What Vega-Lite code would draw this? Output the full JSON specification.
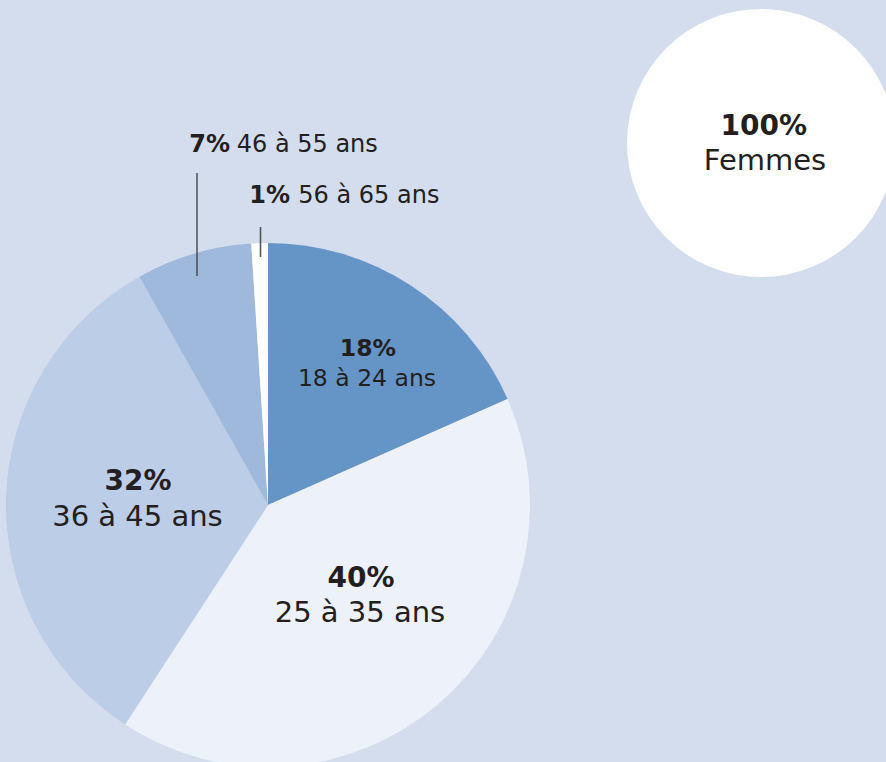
{
  "$schema": "https://vega.github.io/schema/vega-lite/v6.json",
  "width": 886,
  "height": 762,
  "autosize": {"type": "fit", "contains": "padding"},
  "padding": 0,
  "background": "#d4ddee",
  "config": {
    "view": {"stroke": null},
    "text": {"font": "DejaVu Sans", "fill": "#231f20", "baseline": "alphabetic", "align": "center"}
  },
  "params": [
    {"name": "cx", "value": 268},
    {"name": "cy", "value": 505},
    {"name": "gx", "value": 761},
    {"name": "gy", "value": 143}
  ],
  "resolve": {"scale": {"theta": "independent"}},
  "datasets": {
    "ages": [
      {"age": "18 à 24 ans", "share": 0.18},
      {"age": "25 à 35 ans", "share": 0.40},
      {"age": "36 à 45 ans", "share": 0.32},
      {"age": "46 à 55 ans", "share": 0.07},
      {"age": "56 à 65 ans", "share": 0.01}
    ],
    "sexe": [
      {"sexe": "Femmes", "share": 1.0}
    ]
  },
  "data": {"name": "ages"},
  "layer": [
    {
      "mark": {"type": "arc", "outerRadius": 262, "x": {"expr": "cx"}, "y": {"expr": "cy"}, "clip": true},
      "encoding": {
        "theta": {"field": "share", "type": "quantitative", "stack": true},
        "order": {"field": "age", "type": "ordinal", "sort": "ascending"},
        "color": {
          "field": "age",
          "type": "nominal",
          "scale": {
            "domain": ["18 à 24 ans", "25 à 35 ans", "36 à 45 ans", "46 à 55 ans", "56 à 65 ans"],
            "range": ["#6595c7", "#edf1f9", "#bccde7", "#9eb9dc", "#ffffff"]
          },
          "legend": null
        }
      }
    },
    {
      "mark": {"type": "rule", "color": "#3a3a3a", "strokeWidth": 1.3},
      "transform": [{"filter": "datum.age === '46 à 55 ans'"}],
      "encoding": {
        "x": {"value": {"expr": "cx - 71"}},
        "y": {"value": {"expr": "cy - 332"}},
        "y2": {"value": {"expr": "cy - 229"}}
      }
    },
    {
      "mark": {"type": "rule", "color": "#555555", "strokeWidth": 1.6},
      "transform": [{"filter": "datum.age === '56 à 65 ans'"}],
      "encoding": {
        "x": {"value": {"expr": "cx - 7.5"}},
        "y": {"value": {"expr": "cy - 278"}},
        "y2": {"value": {"expr": "cy - 248"}}
      }
    },
    {
      "mark": {"type": "text", "x": {"expr": "cx"}, "y": {"expr": "cy"}, "radius": 173, "dx": 5.6, "dy": -4, "fontSize": 23.5, "fontWeight": "bold"},
      "encoding": {
        "theta": {"field": "share", "type": "quantitative", "stack": true},
        "order": {"field": "age", "type": "ordinal", "sort": "ascending"},
        "text": {"condition": {"test": "datum.age === '18 à 24 ans'", "field": "share", "type": "quantitative", "format": ".0%"}, "value": ""}
      }
    },
    {
      "mark": {"type": "text", "x": {"expr": "cx"}, "y": {"expr": "cy"}, "radius": 173, "dx": 4.6, "dy": 26, "fontSize": 23.5},
      "encoding": {
        "theta": {"field": "share", "type": "quantitative", "stack": true},
        "order": {"field": "age", "type": "ordinal", "sort": "ascending"},
        "text": {"condition": {"test": "datum.age === '18 à 24 ans'", "field": "age", "type": "nominal"}, "value": ""}
      }
    },
    {
      "mark": {"type": "text", "x": {"expr": "cx"}, "y": {"expr": "cy"}, "radius": 130, "dx": 8.7, "dy": -17, "fontSize": 28, "fontWeight": "bold"},
      "encoding": {
        "theta": {"field": "share", "type": "quantitative", "stack": true},
        "order": {"field": "age", "type": "ordinal", "sort": "ascending"},
        "text": {"condition": {"test": "datum.age === '25 à 35 ans'", "field": "share", "type": "quantitative", "format": ".0%"}, "value": ""}
      }
    },
    {
      "mark": {"type": "text", "x": {"expr": "cx"}, "y": {"expr": "cy"}, "radius": 130, "dx": 7.7, "dy": 18, "fontSize": 29},
      "encoding": {
        "theta": {"field": "share", "type": "quantitative", "stack": true},
        "order": {"field": "age", "type": "ordinal", "sort": "ascending"},
        "text": {"condition": {"test": "datum.age === '25 à 35 ans'", "field": "age", "type": "nominal"}, "value": ""}
      }
    },
    {
      "mark": {"type": "text", "x": {"expr": "cx"}, "y": {"expr": "cy"}, "radius": 130, "dx": 0, "dy": -10.8, "fontSize": 28, "fontWeight": "bold"},
      "encoding": {
        "theta": {"field": "share", "type": "quantitative", "stack": true},
        "order": {"field": "age", "type": "ordinal", "sort": "ascending"},
        "text": {"condition": {"test": "datum.age === '36 à 45 ans'", "field": "share", "type": "quantitative", "format": ".0%"}, "value": ""}
      }
    },
    {
      "mark": {"type": "text", "x": {"expr": "cx"}, "y": {"expr": "cy"}, "radius": 130, "dx": -0.6, "dy": 25, "fontSize": 29},
      "encoding": {
        "theta": {"field": "share", "type": "quantitative", "stack": true},
        "order": {"field": "age", "type": "ordinal", "sort": "ascending"},
        "text": {"condition": {"test": "datum.age === '36 à 45 ans'", "field": "age", "type": "nominal"}, "value": ""}
      }
    },
    {
      "mark": {"type": "text", "x": {"expr": "cx"}, "y": {"expr": "cy"}, "radius": 240, "dx": 30.3, "dy": -123, "fontSize": 24, "fontWeight": "bold", "align": "right"},
      "encoding": {
        "theta": {"field": "share", "type": "quantitative", "stack": true},
        "order": {"field": "age", "type": "ordinal", "sort": "ascending"},
        "text": {"condition": {"test": "datum.age === '46 à 55 ans'", "field": "share", "type": "quantitative", "format": ".0%"}, "value": ""}
      }
    },
    {
      "mark": {"type": "text", "x": {"expr": "cx"}, "y": {"expr": "cy"}, "radius": 240, "dx": 37, "dy": -123, "fontSize": 24, "align": "left"},
      "encoding": {
        "theta": {"field": "share", "type": "quantitative", "stack": true},
        "order": {"field": "age", "type": "ordinal", "sort": "ascending"},
        "text": {"condition": {"test": "datum.age === '46 à 55 ans'", "field": "age", "type": "nominal"}, "value": ""}
      }
    },
    {
      "mark": {"type": "text", "x": {"expr": "cx"}, "y": {"expr": "cy"}, "radius": 249, "dx": 30, "dy": -53, "fontSize": 24, "fontWeight": "bold", "align": "right"},
      "encoding": {
        "theta": {"field": "share", "type": "quantitative", "stack": true},
        "order": {"field": "age", "type": "ordinal", "sort": "ascending"},
        "text": {"condition": {"test": "datum.age === '56 à 65 ans'", "field": "share", "type": "quantitative", "format": ".0%"}, "value": ""}
      }
    },
    {
      "mark": {"type": "text", "x": {"expr": "cx"}, "y": {"expr": "cy"}, "radius": 249, "dx": 38.3, "dy": -53, "fontSize": 24, "align": "left"},
      "encoding": {
        "theta": {"field": "share", "type": "quantitative", "stack": true},
        "order": {"field": "age", "type": "ordinal", "sort": "ascending"},
        "text": {"condition": {"test": "datum.age === '56 à 65 ans'", "field": "age", "type": "nominal"}, "value": ""}
      }
    },
    {
      "data": {"name": "sexe"},
      "mark": {"type": "arc", "outerRadius": 134, "x": {"expr": "gx"}, "y": {"expr": "gy"}, "clip": true, "color": "#ffffff"},
      "encoding": {
        "theta": {"field": "share", "type": "quantitative", "stack": true}
      }
    },
    {
      "data": {"name": "sexe"},
      "mark": {"type": "text", "x": {"expr": "gx"}, "y": {"expr": "gy"}, "dx": 2.7, "dy": -8, "fontSize": 28, "fontWeight": "bold"},
      "encoding": {
        "text": {"field": "share", "type": "quantitative", "format": ".0%"}
      }
    },
    {
      "data": {"name": "sexe"},
      "mark": {"type": "text", "x": {"expr": "gx"}, "y": {"expr": "gy"}, "dx": 4, "dy": 27, "fontSize": 29},
      "encoding": {
        "text": {"field": "sexe", "type": "nominal"}
      }
    }
  ]
}
